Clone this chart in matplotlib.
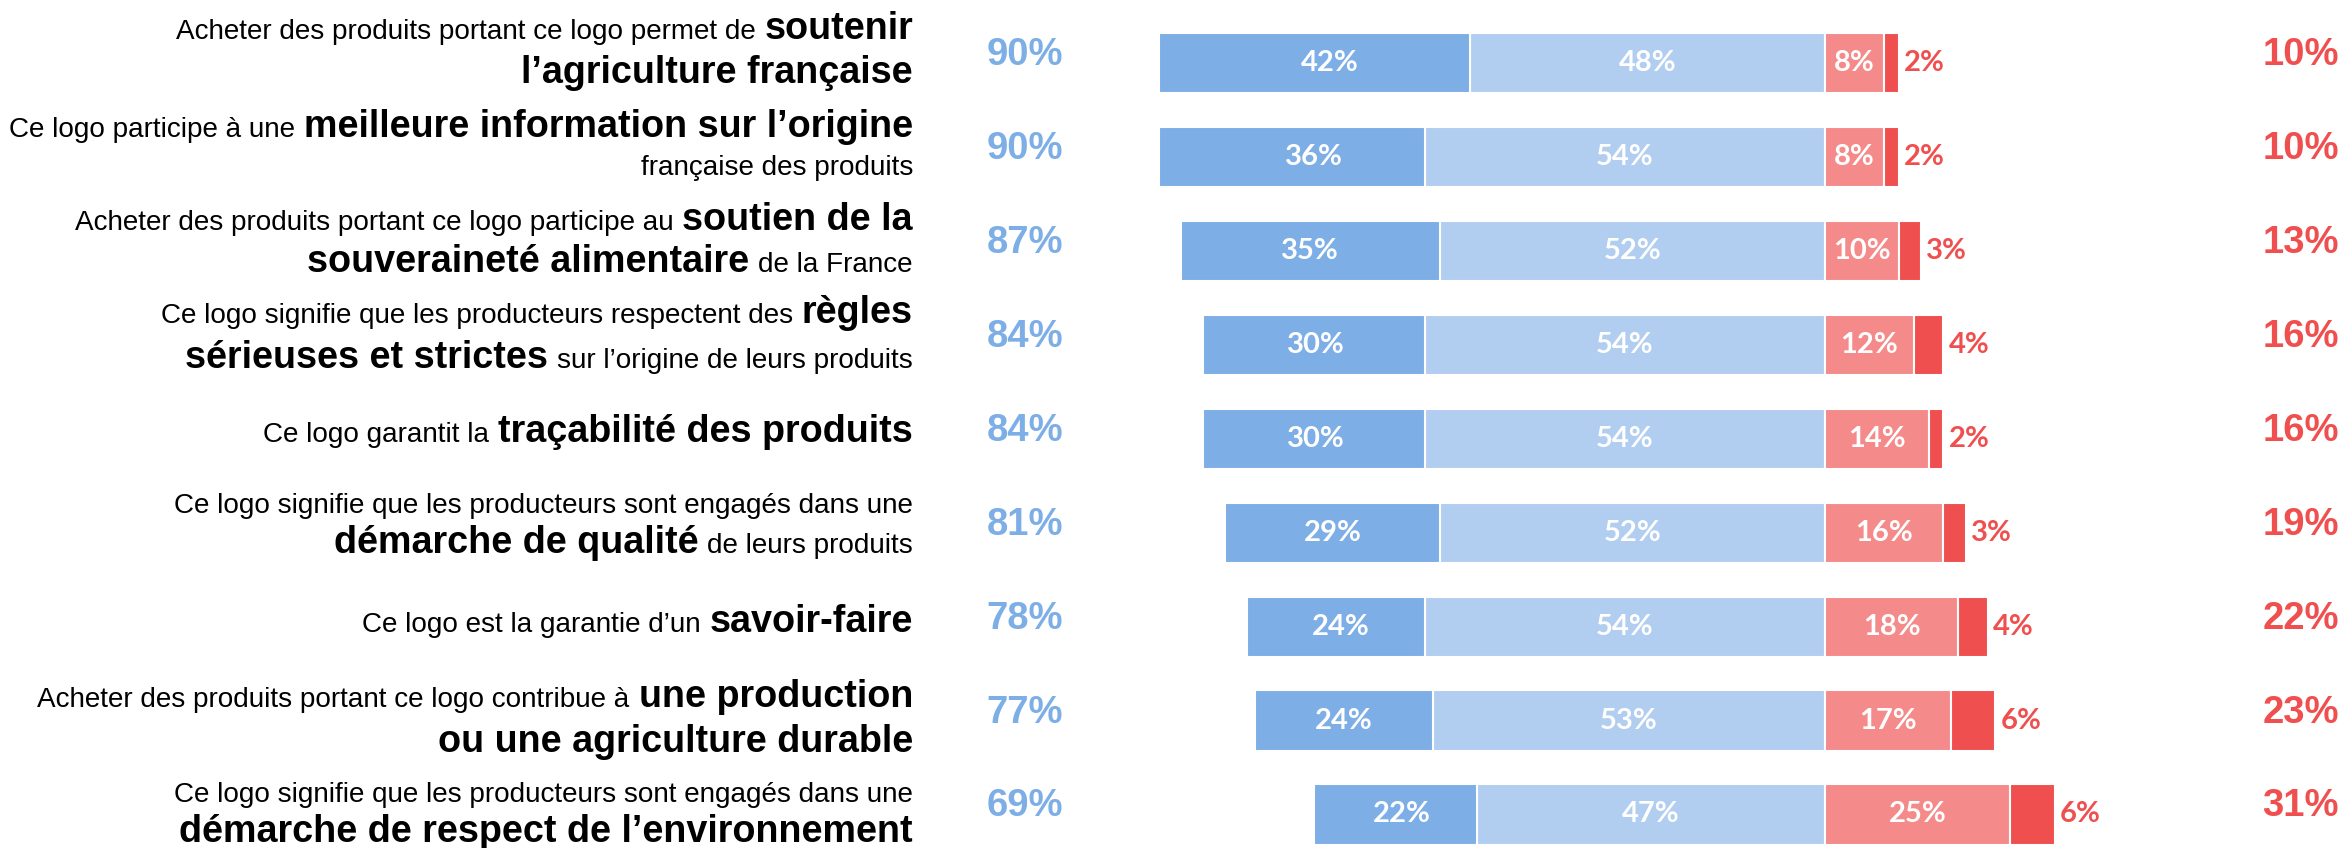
import numpy as np
import matplotlib
matplotlib.use("Agg")
import matplotlib.pyplot as plt

# valeurs (en %)
tout_a_fait = [42, 36, 35, 30, 30, 29, 24, 24, 22]
plutot_oui = [48, 54, 52, 54, 54, 52, 54, 53, 47]
plutot_non = [8, 8, 10, 12, 14, 16, 18, 17, 25]
pas_du_tout = [2, 2, 3, 4, 2, 3, 4, 6, 6]
total_oui = [90, 90, 87, 84, 84, 81, 78, 77, 69]
total_non = [10, 10, 13, 16, 16, 19, 22, 23, 31]

# libellés : lignes de (texte, gras)
libelles = [
    [[("Acheter des produits portant ce logo permet de", False), ("soutenir", True)],
     [("l\u2019agriculture française", True)]],
    [[("Ce logo participe à une", False), ("meilleure information sur l\u2019origine", True)],
     [("française des produits", False)]],
    [[("Acheter des produits portant ce logo participe au", False), ("soutien de la", True)],
     [("souveraineté alimentaire", True), ("de la France", False)]],
    [[("Ce logo signifie que les producteurs respectent des", False), ("règles", True)],
     [("sérieuses et strictes", True), ("sur l\u2019origine de leurs produits", False)]],
    [[("Ce logo garantit la", False), ("traçabilité des produits", True)]],
    [[("Ce logo signifie que les producteurs sont engagés dans une", False)],
     [("démarche de qualité", True), ("de leurs produits", False)]],
    [[("Ce logo est la garantie d\u2019un", False), ("savoir-faire", True)]],
    [[("Acheter des produits portant ce logo contribue à", False), ("une production", True)],
     [("ou une agriculture durable", True)]],
    [[("Ce logo signifie que les producteurs sont engagés dans une", False)],
     [("démarche de respect de l\u2019environnement", True)]],
]

# décalage vertical des lignes de texte (pixels, vers le bas)
decalages = [(-24, 20), (-20, 18), (-21, 21), (-22, 23), (3,),
             (-20, 20), (5,), (-14, 31), (-12, 28)]
# petit décalage horizontal des étiquettes bleu foncé (pixels), comme sur l'original
decal_etiq = [16, 22, 0, 2, 2, 0, 4, 0, 6]

c_bleu = "#7DAEE6"
c_bleu_clair = "#B1CDF0"
c_rose = "#F48A89"
c_rouge = "#F04F4F"

W, H = 2343, 848
fig = plt.figure(figsize=(W / 100, H / 100), dpi=100)
ax = fig.add_axes([0, 0, 1, 1])

x0 = 1825        # pixel du zéro
echelle = 7.405  # pixels par point de %
y_top = 62.9
pas = 93.95
ax.set_xlim(-x0 / echelle, (W - x0) / echelle)
ax.set_ylim((H - y_top) / pas, -y_top / pas)
ax.axis("off")

n = len(tout_a_fait)
y = np.arange(n)
h = 0.64
a = np.array(tout_a_fait)
b = np.array(plutot_oui)
c = np.array(plutot_non)
d = np.array(pas_du_tout)

kw = dict(height=h, edgecolor="white", linewidth=1.5)
ax.barh(y, -b, left=0, color=c_bleu_clair, **kw)
ax.barh(y, -a, left=-b, color=c_bleu, **kw)
ax.barh(y, c, left=0, color=c_rose, **kw)
ax.barh(y, d, left=c, color=c_rouge, **kw)

f_bar = dict(family="Lato", weight="bold", fontsize=21)
for i in range(n):
    ax.annotate(f"{a[i]}%", xy=(-b[i] - a[i] / 2, i), xytext=(decal_etiq[i], 0),
                textcoords="offset pixels", ha="center", va="center", color="white", **f_bar)
    ax.text(-b[i] / 2, i, f"{b[i]}%", ha="center", va="center", color="white", **f_bar)
    ax.text(c[i] / 2, i, f"{c[i]}%", ha="center", va="center", color="white", **f_bar)
    ax.annotate(f"{d[i]}%", xy=(c[i] + d[i], i), xytext=(5, 0), textcoords="offset pixels",
                ha="left", va="center", color=c_rouge, **f_bar)
    ax.annotate(f"{total_oui[i]}%", xy=(1063 / W, i), xycoords=("axes fraction", "data"),
                xytext=(0, -2), textcoords="offset pixels", ha="right", va="baseline",
                color=c_bleu, family="Liberation Sans", weight="bold", fontsize=27.5)
    ax.annotate(f"{total_non[i]}%", xy=(2339 / W, i), xycoords=("axes fraction", "data"),
                xytext=(0, -2), textcoords="offset pixels", ha="right", va="baseline",
                color=c_rouge, family="Liberation Sans", weight="bold", fontsize=27.5)

# libellés à gauche, alignés à droite, avec parties en gras plus grandes
renderer = fig.canvas.get_renderer()
x_lab = 913 / W
for i, lignes in enumerate(libelles):
    for ligne, dy in zip(lignes, decalages[i]):
        xoff = 0
        for txt, gras in reversed(ligne):
            t = ax.annotate(txt, xy=(x_lab, i), xycoords=("axes fraction", "data"),
                            xytext=(xoff, -dy), textcoords="offset pixels",
                            ha="right", va="baseline", color="black",
                            family="Liberation Sans",
                            weight="bold" if gras else "normal",
                            fontsize=27.2 if gras else 20.1)
            xoff -= t.get_window_extent(renderer).width + 9

fig.savefig("out.png", dpi=100)
